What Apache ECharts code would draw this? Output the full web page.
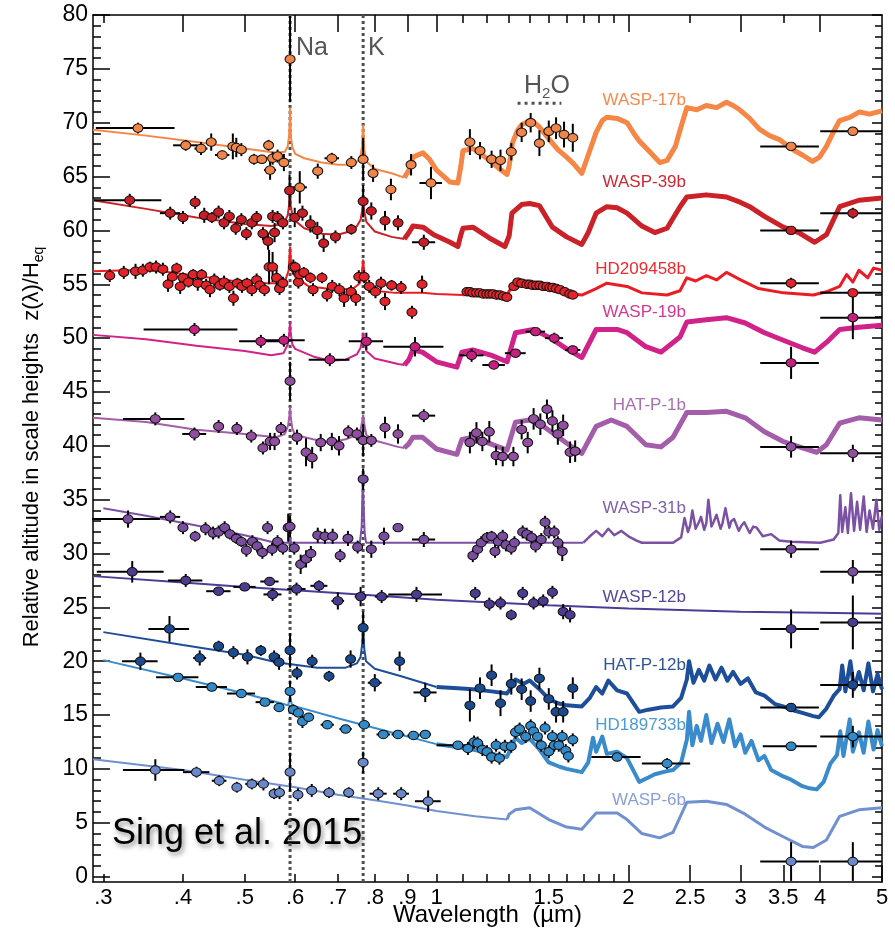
<!DOCTYPE html>
<html><head><meta charset="utf-8">
<script src="https://cdn.jsdelivr.net/npm/echarts@6/dist/echarts.min.js"></script>
<style>html,body{margin:0;padding:0;background:#fff}#c{width:895px;height:929px}</style>
</head><body><div id="c"></div>
<script>
// ---------- axis ticks / labels ----------
const xLabelValues = [0.3,0.4,0.5,0.6,0.7,0.8,0.9,1,1.5,2,2.5,3,3.5,4,5];
const xBottomLongTicks = [2,2.5,3,3.5,4,5];
const xBottomShortTicks = [0.3,0.4,0.5,0.6,0.7,0.8,0.9,1,1.1,1.2,1.3,1.4,1.5,1.6,1.7,1.8,1.9];
const xTopLongTicks = [0.4,0.5,0.6,0.7,0.8,0.9,1,2,3,4];
const xTopShortTicks = [0.3,1.1,1.2,1.3,1.4,1.5,1.6,1.7,1.8,1.9,2.5,3.5];
const yLabelValues = [0,5,10,15,20,25,30,35,40,45,50,55,60,65,70,75,80];
const yMinorTicks = [1,2,3,4,6,7,8,9,11,12,13,14,16,17,18,19,21,22,23,24,26,27,28,29,31,32,33,34,36,37,38,39,41,42,43,44,46,47,48,49,51,52,53,54,56,57,58,59,61,62,63,64,66,67,68,69,71,72,73,74,76,77,78,79];

const planetNames = ['WASP-17b','WASP-39b','HD209458b','WASP-19b','HAT-P-1b','WASP-31b','WASP-12b','HAT-P-12b','HD189733b','WASP-6b'];
const lineWavelengths = [0.589, 0.767]; // Na, K
const h2oBar = [[1.34, 71.8],[1.57, 71.8]];

// ---------- model spectra [wavelength um, z/H] ----------
const modelW17 = [[0.289,69.35],[0.35,68.8],[0.42,68.2],[0.50,67.6],[0.56,67.2],[0.578,67.3],[0.584,67.8],[0.587,68.8],[0.5885,70.3],[0.589,71.4],[0.5895,70.3],[0.591,68.6],[0.594,67.7],[0.60,67.1],[0.62,66.7],[0.66,66.3],[0.70,66.1],[0.74,66.1],[0.758,66.6],[0.764,67.8],[0.767,69.8],[0.770,67.6],[0.776,66.4],[0.80,65.7],[0.85,65.3],[0.89,64.9],[0.895,64.8],[0.905,65.6],[0.918,66.8],[0.952,67.2],[0.975,66.6],[1.0,65.6],[1.049,64.5],[1.08,64.4],[1.092,66.0],[1.10,67.4],[1.14,67.6],[1.18,67.0],[1.21,66.5],[1.25,65.8],[1.29,65.2],[1.30,66.0],[1.315,68.1],[1.34,69.3],[1.36,69.8],[1.40,70.2],[1.43,69.9],[1.45,69.6],[1.50,68.5],[1.55,67.5],[1.60,66.8],[1.64,66.2],[1.69,65.3],[1.73,67.0],[1.78,69.1],[1.82,70.2],[1.85,70.5],[1.92,70.4],[1.99,70.0],[2.04,69.0],[2.08,68.3],[2.16,67.3],[2.24,66.3],[2.30,66.5],[2.37,67.8],[2.41,69.3],[2.47,71.4],[2.56,71.2],[2.65,71.6],[2.75,71.4],[2.85,71.9],[2.92,71.6],[2.99,71.2],[3.1,70.4],[3.21,69.4],[3.33,68.8],[3.46,68.4],[3.62,67.5],[3.75,67.0],[3.89,66.4],[3.99,66.8],[4.09,67.8],[4.2,69.2],[4.29,70.2],[4.45,70.5],[4.61,71.0],[4.78,70.8],[5.0,71.1]];
const modelW39 = [[0.289,62.8],[0.35,62.0],[0.42,61.2],[0.50,60.6],[0.55,60.4],[0.575,60.6],[0.584,61.4],[0.5875,62.5],[0.589,63.8],[0.5905,62.3],[0.594,61.4],[0.60,60.9],[0.62,60.2],[0.66,59.7],[0.70,59.6],[0.73,59.9],[0.75,60.4],[0.760,61.0],[0.765,62.0],[0.767,62.8],[0.770,61.8],[0.776,60.8],[0.80,59.9],[0.85,59.4],[0.89,59.2],[0.905,59.8],[0.918,60.4],[0.952,60.3],[0.99,59.6],[1.05,58.9],[1.08,58.5],[1.092,59.6],[1.10,60.2],[1.14,60.3],[1.21,59.3],[1.28,58.5],[1.30,59.5],[1.313,61.6],[1.36,62.4],[1.40,62.5],[1.45,62.3],[1.52,60.3],[1.6,59.4],[1.69,58.7],[1.73,59.8],[1.78,61.6],[1.85,62.2],[1.92,62.1],[1.99,61.6],[2.10,60.4],[2.2,59.8],[2.30,60.2],[2.41,62.2],[2.47,63.1],[2.65,63.3],[2.85,63.1],[3.0,62.6],[3.1,62.2],[3.27,61.3],[3.5,60.3],[3.7,59.8],[3.92,58.9],[4.09,59.6],[4.29,62.2],[4.6,62.8],[5.0,63.0]];
const modelHD209 = [[0.289,56.2],[0.33,56.3],[0.37,56.2],[0.42,55.8],[0.48,55.3],[0.53,55.1],[0.565,55.1],[0.58,55.5],[0.586,56.3],[0.589,58.5],[0.592,56.3],[0.60,55.7],[0.63,54.8],[0.70,54.5],[0.74,54.6],[0.758,55.1],[0.764,56.2],[0.767,57.3],[0.770,56.0],[0.776,55.1],[0.80,54.4],[0.86,54.2],[0.89,54.2],[0.95,54.2],[1.0,54.1],[1.1,54.0],[1.15,54.3],[1.29,54.0],[1.31,54.7],[1.40,55.0],[1.5,54.8],[1.64,54.1],[1.69,54.0],[1.78,54.6],[1.85,55.1],[1.99,54.8],[2.10,54.2],[2.3,54.0],[2.41,54.4],[2.47,55.6],[2.55,55.3],[2.65,55.8],[2.75,55.4],[2.85,56.1],[3.0,55.4],[3.2,54.6],[3.5,54.2],[3.9,54.0],[4.09,54.3],[4.29,54.8],[4.4,55.9],[4.5,55.2],[4.6,56.3],[4.75,55.6],[4.85,56.5],[5.0,56.3]];
const modelW19 = [[0.289,50.3],[0.35,49.9],[0.42,49.3],[0.50,48.8],[0.55,48.4],[0.575,48.6],[0.584,49.4],[0.5875,50.6],[0.589,51.5],[0.5905,50.4],[0.594,49.4],[0.60,49.0],[0.64,48.3],[0.68,47.9],[0.72,48.0],[0.75,48.5],[0.760,49.1],[0.765,50.0],[0.767,50.5],[0.770,49.8],[0.776,48.8],[0.80,48.1],[0.87,47.6],[0.89,47.5],[0.905,48.0],[0.918,48.9],[0.95,48.7],[1.0,47.8],[1.076,47.3],[1.096,48.7],[1.14,48.9],[1.22,48.4],[1.29,47.8],[1.33,50.5],[1.42,50.8],[1.51,50.0],[1.6,49.0],[1.69,48.2],[1.78,50.8],[1.92,50.8],[1.99,50.5],[2.13,49.2],[2.25,48.7],[2.41,50.1],[2.47,51.5],[2.65,51.7],[2.85,51.9],[3.05,51.4],[3.27,50.5],[3.5,49.8],[3.75,49.1],[3.92,48.7],[4.09,49.6],[4.29,50.8],[4.6,51.0],[5.0,51.2]];
const modelHATP1 = [[0.289,42.6],[0.35,42.2],[0.42,41.5],[0.50,41.1],[0.56,40.8],[0.578,41.1],[0.585,41.9],[0.5875,42.8],[0.589,43.6],[0.5905,42.6],[0.594,41.6],[0.60,41.0],[0.64,40.6],[0.68,40.3],[0.72,40.6],[0.75,41.0],[0.760,41.5],[0.765,42.4],[0.767,42.9],[0.770,42.0],[0.776,41.0],[0.80,40.5],[0.87,39.9],[0.89,39.8],[0.905,40.2],[0.918,40.8],[0.95,40.8],[1.0,39.7],[1.076,39.2],[1.096,40.6],[1.14,40.8],[1.29,39.6],[1.33,42.2],[1.40,42.4],[1.48,41.7],[1.64,39.8],[1.69,39.3],[1.78,41.8],[1.88,42.4],[1.99,41.8],[2.13,40.1],[2.25,39.9],[2.35,40.8],[2.47,43.1],[2.65,43.1],[2.85,43.2],[3.05,42.6],[3.27,41.3],[3.5,40.4],[3.75,39.8],[3.95,39.4],[4.09,40.1],[4.29,42.1],[4.6,42.6],[5.0,42.4]];
const modelW31 = [[0.30,34.2],[0.35,33.5],[0.42,32.6],[0.50,31.7],[0.55,31.1],[0.58,31.0],[0.587,31.0],[0.589,31.6],[0.591,31.0],[0.758,31.0],[0.763,32.5],[0.766,36.8],[0.768,36.8],[0.771,32.0],[0.775,31.0],[1.0,31.0],[1.7,31.0],[1.74,31.6],[1.78,32.1],[1.82,31.6],[1.86,32.3],[1.9,31.7],[1.95,32.1],[2.0,31.6],[2.06,31.2],[2.1,31.0],[2.35,31.0],[2.42,31.5],[2.45,33.3],[2.48,32.0],[2.5,32.6],[2.52,34.0],[2.55,32.3],[2.58,32.9],[2.6,33.4],[2.63,32.2],[2.65,32.8],[2.67,35.0],[2.7,32.5],[2.72,32.9],[2.75,33.6],[2.79,32.3],[2.81,32.8],[2.84,34.2],[2.88,32.4],[2.9,33.0],[2.93,33.2],[2.98,32.1],[3.01,32.6],[3.04,32.9],[3.1,31.9],[3.14,32.5],[3.18,32.4],[3.25,31.6],[3.35,31.8],[3.45,31.2],[3.6,31.1],[4.0,31.0],[4.2,31.3],[4.27,31.9],[4.3,35.4],[4.33,32.0],[4.38,34.3],[4.42,31.9],[4.47,35.6],[4.52,32.1],[4.57,34.8],[4.62,32.2],[4.68,35.3],[4.73,32.0],[4.78,34.0],[4.84,32.3],[4.9,35.0],[4.95,32.2],[5.0,33.5]];
const modelW12 = [[0.289,27.9],[0.40,27.3],[0.5,26.9],[0.6,26.6],[0.8,26.1],[1.0,25.7],[1.5,25.2],[2.0,24.9],[3.0,24.6],[4.0,24.5],[5.0,24.4]];
const modelHATP12 = [[0.30,22.7],[0.40,21.5],[0.5,20.6],[0.56,19.9],[0.65,19.4],[0.72,19.4],[0.75,19.8],[0.760,20.4],[0.764,21.5],[0.767,23.2],[0.770,21.2],[0.775,20.0],[0.80,19.3],[0.88,18.6],[1.0,17.6],[1.08,17.5],[1.14,17.4],[1.22,17.2],[1.29,17.0],[1.31,17.6],[1.33,18.3],[1.37,17.9],[1.40,18.2],[1.45,17.4],[1.50,16.5],[1.55,16.1],[1.60,15.9],[1.69,15.8],[1.74,16.6],[1.78,17.6],[1.82,17.0],[1.86,18.2],[1.92,17.3],[1.99,17.0],[2.08,15.3],[2.15,15.5],[2.25,15.7],[2.35,15.8],[2.42,16.6],[2.47,18.3],[2.49,20.0],[2.53,18.0],[2.58,19.2],[2.63,18.2],[2.68,19.6],[2.74,18.3],[2.8,19.4],[2.86,18.2],[2.92,19.0],[3.0,17.9],[3.08,18.4],[3.17,17.1],[3.27,16.8],[3.4,16.0],[3.5,15.8],[3.65,15.4],[3.75,15.2],[3.9,14.9],[3.98,14.8],[4.09,15.6],[4.2,16.8],[4.29,17.4],[4.33,19.6],[4.38,17.2],[4.46,20.0],[4.52,17.4],[4.6,19.0],[4.68,17.3],[4.76,19.8],[4.84,17.2],[4.92,18.8],[5.0,17.4]];
const modelHD189 = [[0.30,20.1],[0.40,18.4],[0.50,17.0],[0.57,16.1],[0.585,15.9],[0.589,16.8],[0.593,15.9],[0.7,14.7],[0.8,13.8],[1.0,12.3],[1.08,12.0],[1.14,11.8],[1.2,11.5],[1.29,11.1],[1.31,12.0],[1.33,12.9],[1.36,12.4],[1.40,12.8],[1.45,11.8],[1.5,10.6],[1.56,10.2],[1.6,10.0],[1.69,9.7],[1.73,10.6],[1.76,12.9],[1.78,11.6],[1.82,13.0],[1.85,11.4],[1.92,11.6],[1.99,11.0],[2.08,8.8],[2.15,9.2],[2.2,9.5],[2.3,9.8],[2.35,9.9],[2.42,10.6],[2.47,12.7],[2.49,15.3],[2.52,12.2],[2.56,14.0],[2.6,12.6],[2.65,15.0],[2.7,12.4],[2.76,14.2],[2.82,12.5],[2.88,14.6],[2.94,12.1],[3.0,13.2],[3.05,11.5],[3.12,12.6],[3.2,10.8],[3.27,11.2],[3.35,9.9],[3.5,9.3],[3.6,9.0],[3.75,8.4],[3.85,8.2],[3.95,8.1],[4.05,8.8],[4.15,10.5],[4.25,11.3],[4.3,13.5],[4.35,11.2],[4.45,14.6],[4.5,11.6],[4.6,13.4],[4.68,11.5],[4.76,14.4],[4.85,11.8],[4.92,13.6],[5.0,12.1]];
const modelW6 = [[0.289,10.9],[0.40,9.9],[0.5,9.0],[0.6,8.3],[0.7,7.6],[0.8,7.1],[0.9,6.6],[1.0,6.1],[1.15,5.6],[1.29,5.3],[1.30,5.8],[1.33,6.2],[1.40,6.4],[1.5,5.3],[1.6,4.6],[1.69,4.4],[1.78,5.9],[1.92,5.9],[1.99,5.3],[2.1,4.0],[2.24,3.6],[2.35,4.1],[2.47,6.9],[2.65,7.0],[2.85,6.7],[3.05,5.8],[3.27,4.6],[3.5,3.7],[3.75,2.8],[3.9,2.7],[4.09,3.4],[4.29,5.6],[4.6,6.2],[5.0,6.4]];

// ---------- measurements [wavelength, z/H, x half-width (um), y error] ----------
const ptsW17 = [[0.340,69.5,0.048,0.5],[0.404,67.9,0.018,0.5],[0.427,67.6,0.01,0.6],[0.443,68.2,0.008,0.8],[0.461,67.0,0.012,0.4],[0.479,67.8,0.008,1.2],[0.485,67.7,0.006,0.9],[0.494,67.5,0.006,0.6],[0.517,66.6,0.008,0.5],[0.532,66.6,0.008,0.4],[0.545,67.9,0.005,0.5],[0.548,65.6,0.012,0.9],[0.553,66.7,0.005,0.6],[0.563,66.9,0.005,0.6],[0.576,66.3,0.005,0.8],[0.589,75.9,0.003,4.0],[0.610,64.0,0.016,1.5],[0.651,65.5,0.012,0.7],[0.685,66.7,0.018,0.5],[0.735,66.3,0.012,0.6],[0.767,66.6,0.004,2.0],[0.795,65.3,0.01,0.8],[0.848,63.8,0.012,1.0],[0.912,66.1,0.015,1.0],[0.98,64.4,0.04,1.5],[1.128,68.2,0.012,1.2],[1.17,67.4,0.012,0.8],[1.22,66.6,0.012,0.8],[1.26,66.5,0.012,1.0],[1.31,67.3,0.012,0.8],[1.36,69.1,0.012,0.9],[1.405,70.0,0.012,0.9],[1.45,68.1,0.012,1.2],[1.50,69.2,0.012,1.0],[1.54,69.5,0.012,1.0],[1.585,68.9,0.012,1.2],[1.636,68.6,0.012,1.3],[3.6,67.8,0.38,0.3],[4.5,69.2,0.5,0.4]];
const ptsW39 = [[0.330,62.8,0.04,0.6],[0.382,61.6,0.014,0.6],[0.40,61.2,0.007,0.6],[0.418,62.6,0.007,0.6],[0.432,61.4,0.007,0.7],[0.444,61.2,0.007,0.5],[0.455,61.7,0.007,0.6],[0.464,60.7,0.007,0.6],[0.473,61.3,0.007,0.6],[0.484,60.2,0.007,0.6],[0.494,61.0,0.007,0.6],[0.503,59.7,0.007,0.6],[0.513,60.7,0.007,0.6],[0.522,61.2,0.007,0.6],[0.534,59.7,0.007,0.6],[0.544,59.0,0.006,0.8],[0.553,61.3,0.006,0.6],[0.557,59.8,0.006,0.9],[0.563,61.2,0.006,0.6],[0.574,60.7,0.006,0.6],[0.588,63.7,0.003,1.5],[0.599,61.2,0.006,0.9],[0.616,61.6,0.008,0.7],[0.634,60.6,0.008,0.8],[0.65,60.0,0.008,0.8],[0.665,58.8,0.008,0.8],[0.694,59.4,0.01,0.6],[0.735,60.1,0.012,0.5],[0.767,62.7,0.004,1.5],[0.79,61.8,0.01,0.8],[0.83,60.9,0.01,0.9],[0.87,60.7,0.012,0.7],[0.955,58.9,0.04,0.7],[3.6,60.0,0.38,0.4],[4.5,61.6,0.5,0.5]];
const ptsHD209 = [[0.307,55.8,0.006,0.6],[0.323,56.1,0.006,0.6],[0.337,56.2,0.006,0.7],[0.346,56.3,0.005,0.6],[0.355,56.6,0.005,0.5],[0.363,56.6,0.005,0.6],[0.372,56.4,0.005,0.6],[0.379,55.0,0.004,0.7],[0.385,55.7,0.004,0.6],[0.391,56.5,0.004,0.5],[0.396,54.8,0.004,0.7],[0.40,55.6,0.004,0.5],[0.408,55.2,0.004,0.5],[0.415,55.9,0.004,0.5],[0.422,55.1,0.004,0.7],[0.428,55.9,0.004,0.5],[0.435,54.9,0.004,0.6],[0.441,54.5,0.004,0.7],[0.448,55.4,0.004,0.6],[0.457,54.9,0.004,0.5],[0.464,55.2,0.004,0.6],[0.473,54.8,0.004,0.6],[0.48,53.7,0.004,0.7],[0.487,55.1,0.004,0.5],[0.495,54.8,0.004,0.6],[0.504,55.1,0.004,0.5],[0.513,54.5,0.004,0.6],[0.522,55.4,0.004,0.6],[0.528,54.9,0.004,0.6],[0.537,54.5,0.004,0.6],[0.546,56.6,0.006,1.6],[0.553,56.6,0.006,1.4],[0.561,55.6,0.004,0.8],[0.567,54.6,0.004,0.6],[0.574,55.1,0.004,0.6],[0.596,56.6,0.006,0.7],[0.60,56.6,0.004,0.5],[0.607,55.2,0.004,0.6],[0.61,55.9,0.004,0.5],[0.619,56.1,0.004,0.5],[0.634,55.6,0.004,0.5],[0.64,54.5,0.004,0.6],[0.661,55.6,0.004,0.5],[0.673,54.0,0.004,0.6],[0.686,54.8,0.004,0.6],[0.704,54.5,0.004,0.6],[0.716,53.7,0.004,0.8],[0.734,54.3,0.004,0.6],[0.747,53.7,0.004,0.7],[0.755,55.7,0.005,0.6],[0.77,55.7,0.005,0.6],[0.784,54.8,0.004,0.6],[0.802,54.3,0.004,0.6],[0.818,55.1,0.004,0.6],[0.83,53.4,0.004,0.8],[0.85,54.9,0.004,0.5],[0.88,54.7,0.004,0.6],[0.915,52.4,0.004,0.6],[0.949,55.0,0.004,0.8],[1.116,54.3,0.01,0.2],[1.128,54.3,0.01,0.2],[1.14,54.2,0.01,0.2],[1.155,54.2,0.01,0.2],[1.169,54.2,0.01,0.2],[1.184,54.1,0.01,0.2],[1.199,54.1,0.01,0.2],[1.212,54.1,0.01,0.2],[1.226,54.1,0.01,0.2],[1.242,54.0,0.01,0.2],[1.257,54.0,0.01,0.2],[1.273,53.9,0.01,0.2],[1.289,53.8,0.01,0.2],[1.322,54.8,0.01,0.2],[1.341,55.2,0.01,0.2],[1.36,55.1,0.01,0.2],[1.385,55.0,0.01,0.2],[1.4,55.0,0.01,0.2],[1.416,54.9,0.01,0.2],[1.434,54.9,0.01,0.2],[1.452,54.9,0.01,0.2],[1.47,54.8,0.01,0.2],[1.49,54.8,0.01,0.2],[1.506,54.7,0.01,0.2],[1.522,54.7,0.01,0.2],[1.541,54.6,0.01,0.2],[1.561,54.5,0.01,0.2],[1.589,54.3,0.01,0.2],[1.618,54.1,0.01,0.2],[1.636,54.0,0.01,0.2],[3.6,55.1,0.38,0.5],[4.5,54.2,0.5,0.3]];
const ptsW19 = [[0.417,50.8,0.07,0.6],[0.53,49.7,0.04,0.6],[0.576,49.8,0.045,0.6],[0.68,48.0,0.05,0.6],[0.776,49.7,0.048,0.8],[0.925,49.2,0.1,0.9],[1.135,48.4,0.05,0.6],[1.23,47.5,0.05,0.3],[1.33,48.6,0.05,0.3],[1.43,50.6,0.05,0.3],[1.53,50.0,0.05,0.5],[1.636,48.9,0.045,0.4],[3.6,47.7,0.38,1.5],[4.5,51.9,0.5,2.0]];
const ptsHATP1 = [[0.362,42.5,0.04,0.6],[0.417,41.1,0.018,0.6],[0.455,41.8,0.008,0.6],[0.486,41.6,0.008,0.6],[0.512,40.9,0.008,0.6],[0.534,39.8,0.006,0.6],[0.548,40.4,0.006,0.8],[0.557,40.4,0.006,0.8],[0.57,41.6,0.006,0.6],[0.589,46.0,0.003,1.8],[0.604,40.8,0.008,0.7],[0.624,39.4,0.008,1.3],[0.638,38.9,0.006,1.0],[0.658,40.3,0.006,0.8],[0.685,40.4,0.006,0.8],[0.703,40.0,0.006,0.9],[0.727,41.3,0.006,0.6],[0.75,41.1,0.006,0.6],[0.767,40.5,0.004,1.5],[0.79,40.5,0.008,0.6],[0.83,41.7,0.006,1.0],[0.87,41.1,0.006,0.9],[0.955,42.8,0.04,0.6],[1.128,40.3,0.006,1.0],[1.155,41.2,0.006,1.0],[1.18,40.4,0.006,0.9],[1.21,41.3,0.006,1.0],[1.24,39.1,0.006,0.9],[1.27,39.0,0.006,0.9],[1.32,39.0,0.006,0.9],[1.36,41.5,0.006,0.9],[1.39,40.3,0.006,1.0],[1.42,42.5,0.006,1.0],[1.455,42.0,0.006,1.0],[1.49,43.4,0.006,0.9],[1.52,42.3,0.006,1.0],[1.55,41.1,0.006,1.0],[1.58,41.9,0.006,1.0],[1.62,39.4,0.006,1.0],[1.65,39.5,0.006,1.0],[3.6,39.9,0.38,1.0],[4.5,39.3,0.5,0.8]];
const ptsW31 = [[0.328,33.2,0.04,0.8],[0.382,33.4,0.014,0.6],[0.40,32.4,0.006,0.6],[0.418,31.6,0.006,0.5],[0.434,32.3,0.006,0.6],[0.446,31.9,0.006,0.6],[0.455,32.0,0.006,0.6],[0.465,32.4,0.006,0.6],[0.474,31.8,0.006,0.5],[0.485,31.4,0.006,0.5],[0.494,31.1,0.006,0.5],[0.503,30.3,0.006,0.6],[0.514,31.1,0.006,0.6],[0.523,30.7,0.006,0.6],[0.533,30.1,0.006,0.6],[0.543,32.4,0.006,0.6],[0.552,30.4,0.006,0.6],[0.563,31.1,0.006,0.6],[0.574,30.5,0.006,0.6],[0.585,32.4,0.004,1.3],[0.589,32.5,0.003,1.0],[0.598,30.5,0.006,0.6],[0.612,29.0,0.006,0.9],[0.624,29.5,0.006,0.8],[0.635,30.0,0.006,0.7],[0.651,31.7,0.006,0.7],[0.668,31.6,0.006,0.7],[0.687,31.6,0.006,0.7],[0.706,29.8,0.006,0.6],[0.726,31.4,0.006,0.7],[0.752,30.6,0.006,0.6],[0.767,36.9,0.003,1.0],[0.79,30.4,0.01,0.8],[0.827,31.6,0.008,0.8],[0.87,32.4,0.006,0.4],[0.955,31.3,0.04,0.7],[1.14,29.8,0.006,0.6],[1.16,30.4,0.006,0.6],[1.175,31.0,0.006,0.6],[1.2,31.5,0.006,0.5],[1.22,31.6,0.006,0.5],[1.235,30.2,0.006,0.6],[1.25,31.1,0.006,0.6],[1.27,31.6,0.006,0.6],[1.285,30.8,0.006,0.6],[1.31,30.5,0.006,0.6],[1.325,31.0,0.006,0.6],[1.365,32.0,0.006,0.6],[1.385,31.8,0.006,0.6],[1.41,31.5,0.006,0.6],[1.43,30.7,0.006,0.6],[1.46,31.3,0.006,0.6],[1.48,32.9,0.006,0.6],[1.50,32.0,0.006,0.6],[1.53,32.0,0.006,0.6],[1.55,31.0,0.006,0.6],[1.575,30.2,0.006,0.9],[3.6,30.4,0.38,0.8],[4.5,28.3,0.5,1.1]];
const ptsW12 = [[0.333,28.3,0.04,1.0],[0.404,27.5,0.025,0.6],[0.455,26.5,0.02,0.3],[0.50,26.9,0.02,0.3],[0.547,27.4,0.018,0.4],[0.553,26.2,0.018,0.6],[0.603,26.7,0.02,0.6],[0.654,27.0,0.02,0.5],[0.70,25.6,0.016,0.8],[0.76,26.0,0.016,0.9],[0.82,26.0,0.02,0.6],[0.93,26.2,0.09,0.7],[1.15,26.3,0.008,0.6],[1.21,25.3,0.008,0.6],[1.26,25.4,0.008,0.6],[1.31,24.3,0.008,0.5],[1.365,26.3,0.008,0.6],[1.42,25.4,0.008,0.6],[1.47,25.6,0.008,0.6],[1.52,26.4,0.008,0.6],[1.58,24.6,0.008,0.7],[1.62,24.3,0.008,0.7],[3.6,23.0,0.38,1.8],[4.5,23.6,0.5,2.5]];
const ptsHATP12 = [[0.343,20.0,0.022,0.8],[0.381,23.0,0.028,1.2],[0.425,20.3,0.01,0.7],[0.455,21.4,0.008,0.5],[0.48,20.8,0.008,0.6],[0.505,20.4,0.008,0.7],[0.53,21.0,0.008,0.5],[0.556,20.4,0.008,0.6],[0.566,19.9,0.008,0.7],[0.589,21.0,0.004,1.6],[0.604,18.9,0.008,0.6],[0.638,20.0,0.01,0.6],[0.678,18.6,0.01,0.5],[0.733,20.2,0.01,0.8],[0.767,23.1,0.004,1.5],[0.80,18.0,0.02,0.8],[0.875,20.0,0.012,0.9],[0.96,17.1,0.04,0.9],[1.128,15.9,0.012,1.5],[1.17,17.5,0.012,1.0],[1.22,18.7,0.008,1.0],[1.26,16.1,0.008,1.2],[1.31,17.9,0.008,1.0],[1.36,17.4,0.008,1.0],[1.405,16.3,0.008,1.0],[1.45,18.4,0.008,1.0],[1.50,16.5,0.008,1.0],[1.54,15.3,0.008,1.0],[1.58,15.3,0.008,1.0],[1.636,17.5,0.008,1.0],[3.6,15.7,0.38,0.4],[4.5,17.8,0.5,1.2]];
const ptsHD189 = [[0.393,18.5,0.03,0.3],[0.444,17.6,0.025,0.3],[0.494,17.0,0.025,0.3],[0.538,16.2,0.018,0.3],[0.566,15.7,0.01,0.4],[0.589,17.2,0.003,1.0],[0.596,15.5,0.008,0.5],[0.607,15.2,0.006,0.4],[0.616,14.4,0.006,0.6],[0.63,14.8,0.006,0.4],[0.674,14.1,0.016,0.3],[0.72,13.7,0.016,0.3],[0.77,14.1,0.016,0.3],[0.825,13.2,0.02,0.3],[0.87,13.2,0.02,0.3],[0.92,13.1,0.02,0.3],[0.96,13.2,0.02,0.4],[1.08,12.2,0.08,0.3],[1.12,11.9,0.008,0.6],[1.145,12.5,0.008,0.6],[1.16,12.4,0.008,0.6],[1.18,11.8,0.008,0.6],[1.2,11.6,0.008,0.6],[1.22,11.1,0.008,0.6],[1.24,12.2,0.008,0.6],[1.255,11.0,0.008,0.6],[1.28,12.1,0.008,0.6],[1.31,12.1,0.008,0.6],[1.33,13.4,0.008,0.6],[1.35,13.7,0.008,0.6],[1.38,13.0,0.008,0.6],[1.405,14.0,0.008,0.6],[1.42,13.5,0.008,0.6],[1.44,13.0,0.008,0.6],[1.46,12.2,0.008,0.6],[1.48,13.8,0.008,0.6],[1.50,11.6,0.008,0.6],[1.52,13.0,0.008,0.6],[1.53,12.2,0.008,0.6],[1.555,12.2,0.008,0.6],[1.575,13.0,0.008,0.6],[1.595,11.7,0.008,0.6],[1.61,11.2,0.008,0.6],[1.636,12.7,0.008,0.6],[1.92,11.1,0.17,0.3],[2.3,10.5,0.2,0.5],[3.6,12.1,0.35,0.3],[4.5,13.0,0.5,1.0]];
const ptsW6 = [[0.362,9.9,0.04,1.0],[0.42,9.7,0.02,0.5],[0.456,8.9,0.012,0.5],[0.486,8.3,0.006,0.5],[0.513,8.6,0.012,0.5],[0.535,8.6,0.008,0.6],[0.556,7.7,0.006,0.5],[0.567,7.8,0.006,0.6],[0.589,9.7,0.003,1.8],[0.606,7.6,0.01,0.6],[0.637,8.0,0.012,0.6],[0.678,7.8,0.014,0.5],[0.728,7.8,0.014,0.5],[0.767,10.6,0.003,1.0],[0.81,7.7,0.025,0.6],[0.88,7.7,0.025,0.6],[0.97,7.0,0.045,1.0],[3.6,1.4,0.38,1.8],[4.5,1.4,0.5,1.8]];

// ---------- styling (not data) ----------
const models = [modelW17, modelW39, modelHD209, modelW19, modelHATP1, modelW31, modelW12, modelHATP12, modelHD189, modelW6];
const points = [ptsW17, ptsW39, ptsHD209, ptsW19, ptsHATP1, ptsW31, ptsW12, ptsHATP12, ptsHD189, ptsW6];
const lineColors = ['#F58646','#CB2128','#EC1C24','#D1228A','#A35DA9','#7B52A3','#4A3D97','#1D4E99','#3A8BCB','#7090D0'];
const dotColors = ['#EF8548','#C81E27','#E3232A','#C51F80','#91509F','#7A4E9E','#4E3A8F','#1B4B8E','#338AC8','#6B88C9'];
const labelColors = ['#F58A50','#CB2935','#EC2A30','#D23A94','#A870B3','#8060AA','#54489A','#2E5599','#4E9AD2','#8A9FD8'];
const irSplit = [0.89, 0.89, 1.1, 0.89, 0.89, 1.7, 99, 1.0, 1.0, 1.29];
const irWidth = [5, 5, 3, 5, 5, 2.5, 2, 4, 4, 3];
const labelY = [100, 182, 269, 312, 405, 508, 597, 665, 725, 800];

const FONT = '"Liberation Sans", Arial, Helvetica, sans-serif';
const chart = echarts.init(document.getElementById('c'), null, {renderer: 'canvas'});

function fmtX(v) {
  const r = Math.round(v * 10) / 10;
  if (r < 1) return '.' + Math.round(r * 10);
  return String(r);
}

const series = [];
lineWavelengths.forEach(w => {
  series.push({type: 'line', data: [[w, -0.5], [w, 80]], showSymbol: false, silent: true, z: 1,
    lineStyle: {color: '#505050', width: 3, type: [3, 3]}});
});
series.push({type: 'line', data: h2oBar, showSymbol: false, silent: true, z: 1,
  lineStyle: {color: '#505050', width: 3, type: [3, 4]}});

models.forEach((m, i) => {
  let k = m.findIndex(p => p[0] >= irSplit[i]);
  if (k < 0) k = m.length - 1;
  series.push({type: 'line', name: planetNames[i], data: m.slice(0, k + 1), showSymbol: false, silent: true, z: 2,
    lineStyle: {color: lineColors[i], width: 2}});
  if (k < m.length - 1) {
    series.push({type: 'line', name: planetNames[i] + ' IR', data: m.slice(k), showSymbol: false, silent: true, z: 2,
      lineStyle: {color: lineColors[i], width: irWidth[i], join: 'round'}});
  }
});

points.forEach((pts, i) => {
  series.push({
    type: 'custom', name: planetNames[i] + ' err', data: pts, z: 5, silent: true, clip: false,
    encode: {x: 0, y: 1},
    renderItem: function (params, api) {
      const x = api.value(0), y = api.value(1), dx = api.value(2), dy = api.value(3);
      const c = api.coord([x, y]);
      const l = api.coord([x - dx, y]);
      const r = api.coord([x + dx, y]);
      const t = api.coord([x, y + dy]);
      const b = api.coord([x, y - dy]);
      const st = {stroke: '#000', lineWidth: 2};
      return {type: 'group', children: [
        {type: 'line', shape: {x1: l[0], y1: c[1], x2: r[0], y2: c[1]}, style: st},
        {type: 'line', shape: {x1: c[0], y1: t[1], x2: c[0], y2: b[1]}, style: st}
      ]};
    }
  });
  series.push({
    type: 'scatter', name: planetNames[i], data: pts.map(p => [p[0], p[1]]), z: 6, silent: true,
    symbol: 'circle', symbolSize: [10, 8.5],
    itemStyle: {color: dotColors[i], borderColor: '#111', borderWidth: 1, opacity: 1}
  });
});

const baseX = {type: 'log', logBase: 10, min: 0.289, max: 5, splitLine: {show: false}, axisLine: {onZero: false}};
const baseY = {type: 'value', min: -0.5, max: 80, splitLine: {show: false}, axisLine: {onZero: false}};
const blk = {color: '#000', width: 1.5};

const graphics = planetNames.map((n, i) => ({
  type: 'text', x: 686, y: labelY[i], silent: true,
  style: {text: n, fill: labelColors[i], fontSize: 17, fontFamily: FONT, align: 'right', verticalAlign: 'middle'}
}));
graphics.push({type: 'text', x: 296, y: 48, style: {text: 'Na', fill: '#555', fontSize: 25, fontFamily: FONT, align: 'left', verticalAlign: 'middle'}});
graphics.push({type: 'text', x: 368, y: 48, style: {text: 'K', fill: '#555', fontSize: 25, fontFamily: FONT, align: 'left', verticalAlign: 'middle'}});
graphics.push({type: 'text', x: 524, y: 86, style: {text: '{a|H}{b|2}{a|O}', fill: '#555', fontFamily: FONT, align: 'left', verticalAlign: 'middle',
  rich: {a: {fontSize: 25, fill: '#555', fontFamily: FONT, lineHeight: 30, verticalAlign: 'middle'}, b: {fontSize: 15, fill: '#555', fontFamily: FONT, verticalAlign: 'bottom'}}}});
graphics.push({type: 'text', x: 112, y: 834, style: {text: 'Sing et al. 2015', fill: '#000', fontSize: 36, fontFamily: FONT, align: 'left', verticalAlign: 'middle',
  textShadowColor: 'rgba(0,0,0,0.45)', textShadowBlur: 5, textShadowOffsetX: 2, textShadowOffsetY: 3}});
graphics.push({type: 'text', x: 32, y: 447, rotation: Math.PI / 2, style: {text: '{a|Relative altitude in scale heights  z(λ)/H}{b|eq}', fill: '#000', fontFamily: FONT, align: 'center', verticalAlign: 'middle',
  rich: {a: {fontSize: 22, fill: '#000', fontFamily: FONT, lineHeight: 28, verticalAlign: 'middle'}, b: {fontSize: 14, fill: '#000', fontFamily: FONT, verticalAlign: 'bottom'}}}});

chart.setOption({
  animation: false,
  backgroundColor: '#fff',
  grid: {left: 93, right: 13, top: 15, bottom: 47, containLabel: false, outerBoundsMode: 'none'},
  xAxis: [
    Object.assign({}, baseX, {position: 'bottom', axisLine: {show: true, onZero: false, lineStyle: blk},
      axisTick: {show: true, inside: true, length: 17, customValues: xBottomLongTicks, lineStyle: blk},
      axisLabel: {show: true, customValues: xLabelValues, formatter: fmtX, fontSize: 22, fontFamily: FONT, color: '#000', margin: 5, hideOverlap: false},
      name: 'Wavelength  (µm)', nameLocation: 'middle', nameGap: 21, nameMoveOverlap: false,
      nameTextStyle: {fontSize: 24, fontFamily: FONT, color: '#000', verticalAlign: 'top'}}),
    Object.assign({}, baseX, {position: 'bottom', axisLine: {show: false, onZero: false},
      axisTick: {show: true, inside: true, length: 8, customValues: xBottomShortTicks, lineStyle: blk}, axisLabel: {show: false}}),
    Object.assign({}, baseX, {position: 'top', axisLine: {show: true, onZero: false, lineStyle: blk},
      axisTick: {show: true, inside: true, length: 17, customValues: xTopLongTicks, lineStyle: blk}, axisLabel: {show: false}}),
    Object.assign({}, baseX, {position: 'top', axisLine: {show: false, onZero: false},
      axisTick: {show: true, inside: true, length: 8, customValues: xTopShortTicks, lineStyle: blk}, axisLabel: {show: false}})
  ],
  yAxis: [
    Object.assign({}, baseY, {position: 'left', axisLine: {show: true, onZero: false, lineStyle: blk},
      axisTick: {show: true, inside: true, length: 17, customValues: yLabelValues, lineStyle: blk},
      axisLabel: {show: true, customValues: yLabelValues, fontSize: 23, fontFamily: FONT, color: '#000', margin: 5}}),
    Object.assign({}, baseY, {position: 'left', axisLine: {show: false, onZero: false},
      axisTick: {show: true, inside: true, length: 8, customValues: yMinorTicks, lineStyle: blk}, axisLabel: {show: false}}),
    Object.assign({}, baseY, {position: 'right', axisLine: {show: true, onZero: false, lineStyle: blk},
      axisTick: {show: true, inside: true, length: 10, customValues: yLabelValues, lineStyle: blk}, axisLabel: {show: false}}),
    Object.assign({}, baseY, {position: 'right', axisLine: {show: false, onZero: false},
      axisTick: {show: true, inside: true, length: 7, customValues: yMinorTicks, lineStyle: blk}, axisLabel: {show: false}})
  ],
  series: series,
  graphic: graphics
});
</script></body></html>
